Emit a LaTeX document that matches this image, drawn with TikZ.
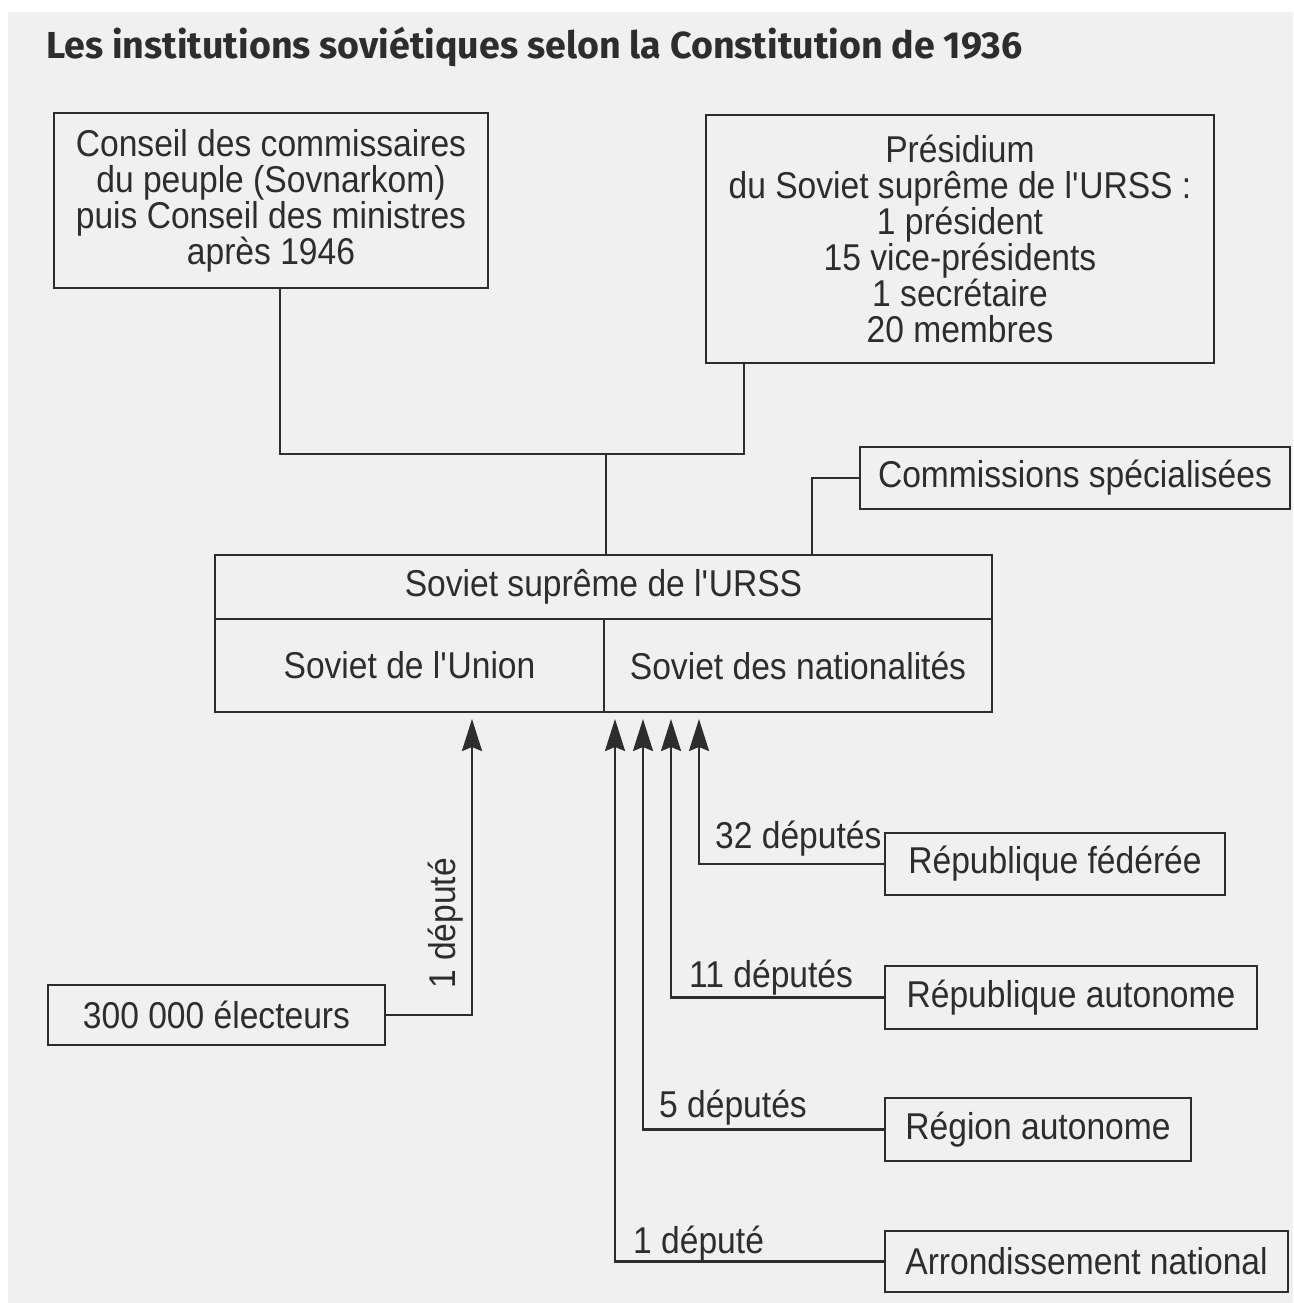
\documentclass[tikz,border=0pt]{standalone}
\usepackage{fontspec}
\setmainfont{Liberation Sans}[FakeStretch=0.9]
\newfontfamily\titrefont{Fira Sans}
\usetikzlibrary{arrows.meta}

\definecolor{papier}{RGB}{240,240,240}
\definecolor{encre}{RGB}{45,45,45}

\tikzset{every picture/.style={line width=1.8pt}}
\tikzset{
    boite/.style={draw=encre, text=encre, inner sep=0pt, outer sep=0pt, align=center, font=\fontsize{28}{27}\selectfont},
    lbl/.style={text=encre, inner sep=0pt, font=\fontsize{28}{27}\selectfont},
    trait/.style={draw=encre},
    fleche/.style={draw=encre, -{Stealth[length=24pt,width=15pt,inset=3pt]}},
}
\newcommand{\apos}{\textquotesingle}

\begin{document}
\begin{tikzpicture}[x=0.75pt,y=0.75pt,yscale=-1,xscale=1]
    \useasboundingbox (0,0) rectangle (1293,1303);
    \fill[papier] (8,12) rectangle (1293,1303);

    % Text Node
    \node[anchor=base west, inner sep=0pt, text=encre, font=\titrefont\bfseries\fontsize{28.2}{30}\selectfont] (titre) at (45,58) {Les institutions soviétiques selon la Constitution de 1936};

    %Shape: Rectangle
    \node[boite, minimum width=325.5pt, minimum height=131.25pt] (conseil) at (271,200.5) {Conseil des commissaires\\du peuple (Sovnarkom)\\puis Conseil des ministres\\après 1946};
    %Shape: Rectangle
    \node[boite, minimum width=381pt, minimum height=186pt] (presidium) at (960,239) {Présidium\\du Soviet suprême de l\apos URSS :\\1 président\\15 vice-présidents\\1 secrétaire\\20 membres};
    %Shape: Rectangle
    \node[boite, minimum width=322.5pt, minimum height=46.5pt] (commissions) at (1075,478) {Commissions spécialisées};

    %Shape: Rectangle
    \node[boite, minimum width=582.75pt, minimum height=48pt] (supreme) at (603.5,587) {Soviet suprême de l\apos URSS};
    \node[boite, minimum width=291.75pt, minimum height=69.75pt] (union) at (409.5,665.5) {Soviet de l\apos Union};
    \node[boite, minimum width=291pt, minimum height=69.75pt] (nationalites) at (798,665.5) {Soviet des nationalités};

    %Shape: Rectangle
    \node[boite, minimum width=252.75pt, minimum height=45pt] (electeurs) at (216.5,1015) {300 000 électeurs};
    \node[boite, minimum width=255pt, minimum height=46.5pt] (federee) at (1055,864) {République fédérée};
    \node[boite, minimum width=279pt, minimum height=47.25pt] (autonome) at (1071,997.5) {République autonome};
    \node[boite, minimum width=229.5pt, minimum height=47.25pt] (region) at (1038,1129.5) {Région autonome};
    \node[boite, minimum width=302.25pt, minimum height=45.75pt] (arrondissement) at (1086.5,1261.5) {Arrondissement national};

    %Straight Lines
    \coordinate (jonction) at (606,454);
    \draw[trait] (conseil.south) ++(9,0) |- (jonction);
    \draw[trait] (presidium.south west) ++(38,0) |- (jonction);
    \draw[trait] (jonction) -- (supreme.north -| jonction);
    \draw[trait] (supreme.north east) ++(-180,0) |- (commissions.west);

    %Arrow tips under the Soviet
    \coordinate (pu) at (472,719);
    \coordinate (pa) at (615,719);
    \coordinate (pb) at (643,719);
    \coordinate (pc) at (671,719);
    \coordinate (pd) at (699,719);

    %Straight Lines
    \draw[fleche] (electeurs.east) -| (pu);
    \draw[fleche] (federee.west) -| (pd);
    \draw[fleche] (autonome.west) -| (pc);
    \draw[fleche] (region.west) -| (pb);
    \draw[fleche] (arrondissement.west) -| (pa);

    % Text Node
    \node[lbl, rotate=90, anchor=base west] (dunion) at (455,990) {1 député};
    % Text Node
    \node[lbl, anchor=base west] (dfederee) at (714,848) {32 députés};
    % Text Node
    \node[lbl, anchor=base west] (dautonome) at (688,987) {11 députés};
    % Text Node
    \node[lbl, anchor=base west] (dregion) at (658,1117) {5 députés};
    % Text Node
    \node[lbl, anchor=base west] (darrondissement) at (632,1253) {1 député};

\end{tikzpicture}
\end{document}
